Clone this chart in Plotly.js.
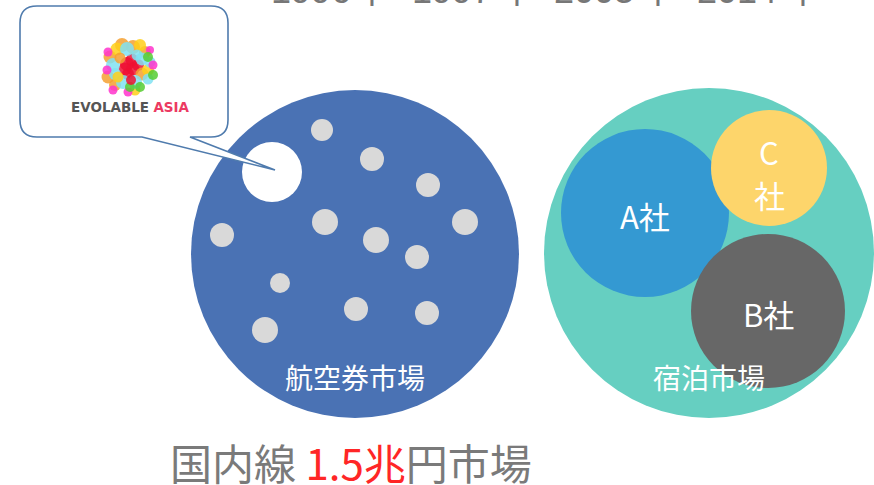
<!DOCTYPE html>
<html>
<head>
<meta charset="utf-8">
<script src="https://cdn.plot.ly/plotly-3.0.1.min.js"></script>
<style>html,body{margin:0;padding:0;background:#fff;}#chart{width:874px;height:485px;}</style>
</head>
<body>
<div id="chart"></div>
<script>
// ---- data ----
// market circles
const marketNames = ["航空券市場", "宿泊市場"];
const marketX = [355, 709];
const marketY = [254, 253];
const marketR = [164, 165];
const marketColors = ["#4a72b4", "#66cfc1"];

// small players in the airline market (grey dots)
const dotX = [322, 372, 428, 325, 465, 222, 376, 417, 280, 356, 427, 265];
const dotY = [130, 159, 185, 222, 222, 235, 240, 257, 283, 309, 313, 330];
const dotR = [11, 12, 12, 13, 13, 12, 13, 12, 10, 12, 12, 13];

// Evolable Asia position (white circle)
const evoX = [272];
const evoY = [172];
const evoR = [30];

// hotel market companies
const compNames = ["A社", "C", "社", "B社"];
const compX = [645, 769, 768];
const compY = [213, 168, 311];
const compR = [84, 58, 77];
const compColors = ["#3499d2", "#fdd56b", "#676767"];
const compLabelX = [645, 769, 769, 768];
const compLabelY = [215, 151, 194, 313];

// logo dots
const logoX = [127,132,125,133,128,138, 122,133,110,142,108,145,115, 117,140,148,135, 127,113,142,123,135,150,115,148, 108,113,153,128,150,107, 148,140,153,130, 120,137,118,131];
const logoY = [64,60,69,69,74,65, 45,47,57,74,77,52,85, 49,45,70,90, 49,65,59,82,82,62,74,79, 52,90,65,92,50,70, 57,87,75,87, 58,55,77,80];
const logoC = ["#ee1133","#ee1133","#ee1133","#ee1133","#ee1133","#ee1133",
  "#f5a030","#f5a030","#f5a030","#f5a030","#f5a030","#f5a030","#f5a030",
  "#ffcf1a","#ffcf1a","#ffcf1a","#ffcf1a",
  "#80e2f2","#80e2f2","#80e2f2","#80e2f2","#80e2f2","#80e2f2","#80e2f2","#80e2f2",
  "#ff33cc","#ff33cc","#ff33cc","#ff33cc","#ff33cc","#ff33cc",
  "#55cc33","#55cc33","#55cc33","#55cc33",
  "#f5a030","#80e2f2","#ffcf1a","#ee1133"];
const logoS = [14,13,13,13,12,12, 14,14,13,13,13,12,12, 13,12,12,11, 14,14,13,14,14,11,12,11, 9,9,9,9,8,9, 10,10,10,10, 11,11,11,10];

// top (cropped) year labels
const yearLabels = ["1996", "1997", "2003", "2014"];
const yearX = [311, 452, 594, 737];
const sepX = [372, 517, 658, 803];
const sepLabels = ["|", "|", "|", "|"];

// bottom caption
const captionPre = "国内線";
const captionHi = "1.5兆";
const captionPost = "円市場";

// ---- build ----
const shapes = [];
function circ(x, y, r, color) {
  return {type: "circle", xref: "x", yref: "y", x0: x - r, x1: x + r, y0: y - r, y1: y + r,
          fillcolor: color, line: {width: 0}, layer: "below"};
}
marketX.forEach((x, i) => shapes.push(circ(x, marketY[i], marketR[i], marketColors[i])));
dotX.forEach((x, i) => shapes.push(circ(x, dotY[i], dotR[i], "#d9d9d9")));
evoX.forEach((x, i) => shapes.push(circ(x, evoY[i], evoR[i], "#ffffff")));
compX.forEach((x, i) => shapes.push(circ(x, compY[i], compR[i], compColors[i])));

// speech bubble
const bx0 = 20, bx1 = 228, by0 = 6, by1 = 137, br = 17;
const tailA = 190, tailB = 142, tipX = 275, tipY = 170;
const bubblePath = `M ${bx0+br},${by0} L ${bx1-br},${by0} Q ${bx1},${by0} ${bx1},${by0+br} ` +
  `L ${bx1},${by1-br} Q ${bx1},${by1} ${bx1-br},${by1} L ${tailA},${by1} L ${tipX},${tipY} L ${tailB},${by1} ` +
  `L ${bx0+br},${by1} Q ${bx0},${by1} ${bx0},${by1-br} L ${bx0},${by0+br} Q ${bx0},${by0} ${bx0+br},${by0} Z`;
shapes.push({type: "path", xref: "x", yref: "y", path: bubblePath, fillcolor: "#ffffff",
             line: {color: "#4f7bad", width: 1.6}, layer: "below"});

const topFont = {family: "Liberation Sans, Arial, sans-serif", size: 36, color: "#777777"};
const traces = [{
  type: "scatter", mode: "markers", x: logoX, y: logoY, hoverinfo: "skip",
  marker: {size: logoS, color: logoC, opacity: 0.85, line: {width: 0}}
}, {
  type: "scatter", mode: "text", x: yearX, y: yearX.map(() => 12), text: yearLabels,
  textposition: "top center", textfont: topFont, cliponaxis: true, hoverinfo: "skip"
}, {
  type: "scatter", mode: "text", x: sepX, y: sepX.map(() => 7), text: sepLabels,
  textposition: "top center", textfont: topFont, cliponaxis: true, hoverinfo: "skip"
}];

const jp = "Noto Sans CJK JP, sans-serif";
const annotations = [];
marketNames.forEach((t, i) => annotations.push({
  x: marketX[i], y: 377, xref: "x", yref: "y", text: t, showarrow: false,
  font: {family: jp, size: 28, color: "#ffffff"}
}));
compNames.forEach((t, i) => annotations.push({
  x: compLabelX[i], y: compLabelY[i], xref: "x", yref: "y", text: t, showarrow: false,
  font: {family: jp, size: 31, color: "#ffffff"}
}));
annotations.push({
  x: 130, y: 107, xref: "x", yref: "y", showarrow: false,
  text: "<b>EVOLABLE</b> <b><span style='color:#ec3a62'>ASIA</span></b>",
  font: {family: "DejaVu Sans, sans-serif", size: 13.5, color: "#555555"}
});
annotations.push({
  x: 351, y: 461, xref: "x", yref: "y", showarrow: false,
  text: captionPre + " <span style='color:#ff2626'>" + captionHi + "</span>" + captionPost,
  font: {family: jp, size: 42, color: "#7a7a7a"}
});

const layout = {
  width: 874, height: 485, margin: {l: 0, r: 0, t: 0, b: 0},
  paper_bgcolor: "#ffffff", plot_bgcolor: "rgba(0,0,0,0)",
  xaxis: {range: [0, 874], visible: false, fixedrange: true},
  yaxis: {range: [485, 0], visible: false, fixedrange: true},
  showlegend: false, shapes: shapes, annotations: annotations
};
Plotly.newPlot("chart", traces, layout, {displayModeBar: false, staticPlot: true});
</script>
</body>
</html>
